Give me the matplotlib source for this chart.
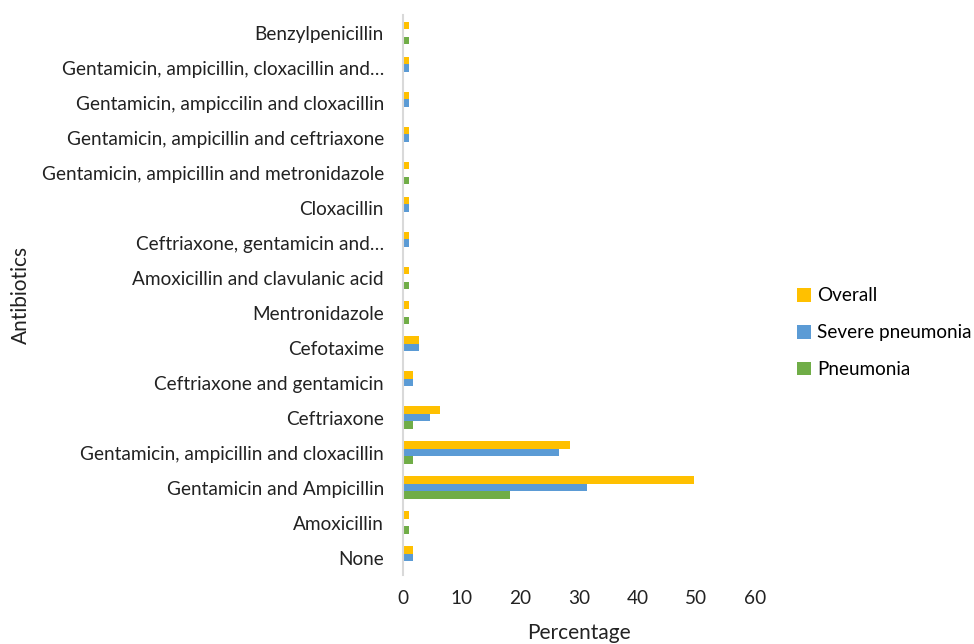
import numpy as np
import matplotlib.pyplot as plt

# Data (bottom to top as drawn)
antibiotics = [
    "None",
    "Amoxicillin",
    "Gentamicin and Ampicillin",
    "Gentamicin, ampicillin and cloxacillin",
    "Ceftriaxone",
    "Ceftriaxone and gentamicin",
    "Cefotaxime",
    "Mentronidazole",
    "Amoxicillin and clavulanic acid",
    "Ceftriaxone, gentamicin and\u2026",
    "Cloxacillin",
    "Gentamicin, ampicillin and metronidazole",
    "Gentamicin, ampicillin and ceftriaxone",
    "Gentamicin, ampiccilin and cloxacillin",
    "Gentamicin, ampicillin, cloxacillin and\u2026",
    "Benzylpenicillin",
]
overall = [1.7, 0.9, 49.7, 28.4, 6.3, 1.7, 2.7, 0.9, 0.9, 0.9, 0.9, 0.9, 0.9, 0.9, 0.9, 0.9]
severe = [1.7, 0, 31.3, 26.6, 4.6, 1.7, 2.7, 0, 0, 0.9, 0.9, 0, 0.9, 0.9, 0.9, 0]
pneumonia = [0, 0.9, 18.3, 1.7, 1.7, 0, 0, 0.9, 0.9, 0, 0, 0.9, 0, 0, 0, 0.9]

plt.rcParams['font.family'] = ['Lato', 'DejaVu Sans']

fig = plt.figure(figsize=(9.74, 6.44), dpi=100)
ax = fig.add_axes([0.414, 0.107, 0.361, 0.869])

y = np.arange(len(antibiotics))
h = 0.215
ax.barh(y + h, overall, height=h, color='#FFC000', label='Overall')
ax.barh(y, severe, height=h, color='#5B9BD5', label='Severe pneumonia')
ax.barh(y - h, pneumonia, height=h, color='#70AD47', label='Pneumonia')

ax.set_ylim(-0.5, len(antibiotics) - 0.5)
ax.set_xlim(0, 60)
ax.set_xticks(range(0, 61, 10))
ax.set_yticks(y)
ax.set_yticklabels(antibiotics)
ax.tick_params(axis='both', length=0, labelsize=13.7, colors='#222222')
ax.tick_params(axis='y', pad=14)
ax.tick_params(axis='x', pad=11)

for s in ['top', 'right', 'bottom']:
    ax.spines[s].set_visible(False)
ax.spines['left'].set_color('#d9d9d9')
ax.spines['left'].set_linewidth(1.5)

ax.set_xlabel('Percentage', fontsize=15, color='#222222', labelpad=11)
ax.set_ylabel('Antibiotics', fontsize=15, color='#222222')
ax.yaxis.set_label_coords(-1.06, 0.5)

ax.legend(loc='center left', bbox_to_anchor=(1.072, 0.433), frameon=False,
          fontsize=13.6, handlelength=0.75, handleheight=0.75, handletextpad=0.3,
          labelspacing=1.05)

fig.savefig('out.png', dpi=100)
